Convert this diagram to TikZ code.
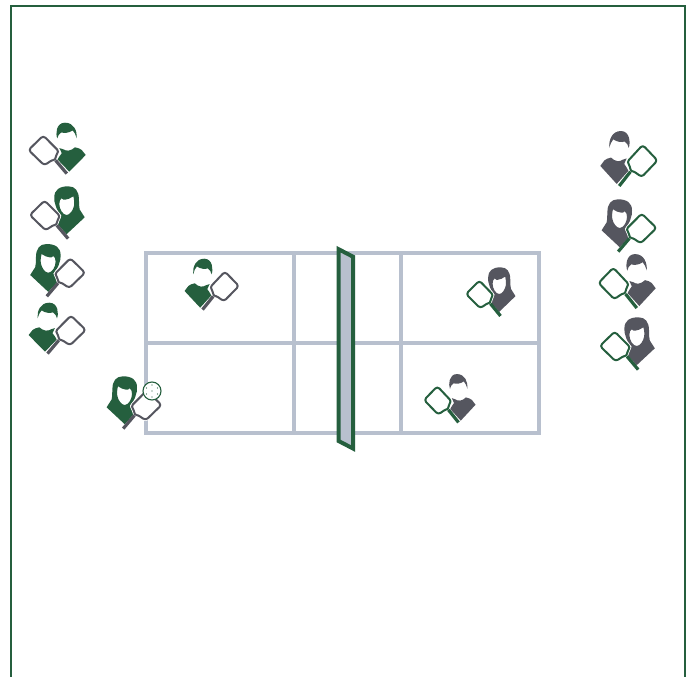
\documentclass[tikz,border=0pt]{standalone}
\definecolor{teamgreen}{HTML}{255F3E}
\definecolor{teamgrey}{HTML}{55565F}
\definecolor{courtline}{HTML}{B8C0CE}
\tikzset{
  courtlines/.style={draw=courtline,line width=3.6pt},
  paddleface/.style={fill=white,line width=2pt,rounded corners=3pt,line join=round},
  paddlegrip/.style={line width=3.2pt},
  ballring/.style={draw=teamgreen,fill=white,line width=1.1pt},
}
\newcommand{\paddleoutline}{(-31.5,0) -- (-16.7,-14.4) -- (-0.8,1.6) .. controls (-3.2,4) and (-4.3,7) .. (-4.2,10.3)
      .. controls (-8,10.2) and (-11,12) .. (-15.6,15.4) -- cycle}
\newcommand{\paddleshape}[1]{%
  \draw[draw=white,paddleface,line width=3.6pt] \paddleoutline;
  \draw[draw=#1,paddleface] \paddleoutline;
  \draw[draw=#1,paddlegrip] (-4.4,10.4) -- (6.8,23.6);}
\newcommand{\maleshape}[1]{%
  \fill[#1]
      (-2.7,-11.7) .. controls (-4.6,-16) and (-4,-27.3) .. (5,-27.3)
      .. controls (14,-27.3) and (17.4,-19) .. (16.7,-11.7)
      .. controls (15.6,-15) and (14.6,-18) .. (12.7,-19.6)
      .. controls (9,-17) and (4,-16.6) .. (1.4,-17.6)
      .. controls (-1,-16.5) and (-2.2,-14) .. (-2.7,-11.7) -- cycle;
  \fill[#1]
      (-0.6,-1.9) .. controls (1,-1) and (2,-1) .. (3.3,-0.7)
      .. controls (6,1.4) and (11,1.2) .. (15,-2.7)
      .. controls (18,-2) and (20,-1.5) .. (21.7,0) -- (25.7,5) -- (9.3,21.7) -- (-2.4,9.5)
      .. controls (-1.6,7) and (0.8,5) .. (1.8,3.2) -- cycle;}
\newcommand{\femaleshape}[1]{%
  \fill[#1,even odd rule]
      (-7,-17.7) .. controls (-7,-25) and (-2,-28.7) .. (7,-28.7)
      .. controls (14,-28.7) and (17.5,-24) .. (17.6,-16)
      .. controls (18,-10) and (17.5,-8) .. (18.4,-5.5)
      -- (23.4,2.3) -- (5.3,19.2) -- (-4,9) .. controls (-2.6,6) and (-0.5,3) .. (0.3,0.7)
      .. controls (-2,-2) and (-5,-6) .. (-5.6,-9.3) .. controls (-7,-12) and (-7,-15) .. (-7,-17.7) -- cycle
      (-2,-11) .. controls (-2,-14) and (-1.2,-15.6) .. (0.3,-16.7)
      .. controls (1.4,-15.2) and (3,-15) .. (3.7,-15.3)
      .. controls (6,-15.6) and (9.5,-16.6) .. (12,-18.7)
      .. controls (12.8,-16) and (13.2,-12) .. (12.7,-9.3)
      .. controls (12,-5) and (8.6,0) .. (5.3,0)
      .. controls (1.5,0) and (-2,-6) .. (-2,-11) -- cycle;}
% #1 figure macro, #2 x, #3 y, #4 scale options, #5 body, #6 paddle
\newcommand{\playerat}[6]{%
  \begin{scope}[shift={(#2,#3)},#4]#1{#5}\paddleshape{#6}\end{scope}}
\begin{document}
\begin{tikzpicture}[x=1pt,y=-1pt]
\useasboundingbox (0,0) rectangle (691,677);
\fill[white] (0,0) rectangle (691,677);
\draw[teamgreen,line width=2pt] (10.5,680) -- (10.5,6.5) -- (684.5,6.5) -- (684.5,680);

% court
\draw[courtlines] (146,253) rectangle (539,433);
\draw[courtlines] (146,343) -- (539,343);
\draw[courtlines] (294,253) -- (294,433);
\draw[courtlines] (401,253) -- (401,433);
\draw[teamgreen,fill=courtline,line width=4pt,line join=miter] (338.6,249.2) -- (353.2,256.8) -- (353.2,448.6) -- (338.6,441) -- cycle;

% left team
\playerat{\maleshape}{60}{150}{xscale=1}{teamgreen}{teamgrey}
\playerat{\femaleshape}{61.3}{215}{xscale=1}{teamgreen}{teamgrey}
\playerat{\femaleshape}{53.6}{272.7}{xscale=-1}{teamgreen}{teamgrey}
\playerat{\maleshape}{54.3}{330}{xscale=-1}{teamgreen}{teamgrey}
\playerat{\maleshape}{209}{286}{xscale=-.95}{teamgreen}{teamgrey}
\playerat{\femaleshape}{130}{405}{xscale=-1}{teamgreen}{teamgrey}
% ball
\node[circle,ballring,minimum size=18pt,inner sep=0pt] (ball) at (152,391) {};
\foreach \dx/\dy in {0/0,-5.5/-3,5.5/-3,-5.5/3,5.5/3,0/-6,0/6}
  \fill[teamgreen] ([shift={(\dx,\dy)}]ball.center) circle (0.7pt);

% right team
\playerat{\maleshape}{626}{160.5}{xscale=-1,yscale=1.08}{teamgrey}{teamgreen}
\playerat{\femaleshape}{625}{228}{xscale=-1}{teamgrey}{teamgreen}
\playerat{\maleshape}{630}{283}{yscale=1.06}{teamgrey}{teamgreen}
\playerat{\femaleshape}{631.4}{346}{xscale=1}{teamgrey}{teamgreen}
\playerat{\maleshape}{452.4}{400}{xscale=.9,yscale=.95}{teamgrey}{teamgreen}
\playerat{\femaleshape}{494.4}{294}{xscale=.9,yscale=.93}{teamgrey}{teamgreen}
\end{tikzpicture}
\end{document}
